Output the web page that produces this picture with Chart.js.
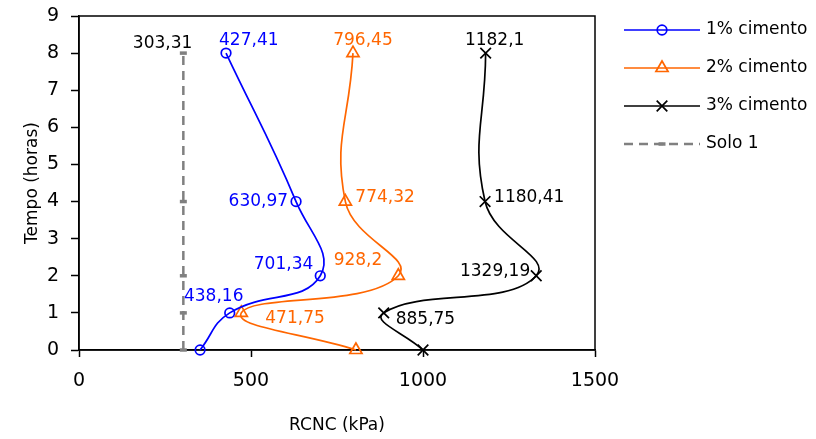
<!DOCTYPE html>
<html>
<head>
<meta charset="utf-8">
<script src="https://cdn.jsdelivr.net/npm/chart.js@4.4.0/dist/chart.umd.min.js"></script>
<style>
  html, body { margin: 0; padding: 0; background: #fff; }
  #wrap { width: 816px; height: 439px; }
</style>
</head>
<body>
<div id="wrap"><canvas id="rcnc-chart" width="816" height="439"></canvas></div>
<script>
// RCNC (kPa) por tempo de cura (horas)
const horas = [0, 1, 2, 4, 8];
const cimento1 = [352, 438.16, 701.34, 630.97, 427.41];
const cimento2 = [805, 471.75, 928.2, 774.32, 796.45];
const cimento3 = [1000, 885.75, 1329.19, 1180.41, 1182.1];
const solo1 = [303.31, 303.31, 303.31, 303.31, 303.31];
const seriesNames = ['1% cimento', '2% cimento', '3% cimento', 'Solo 1'];
const xTicks = [0, 500, 1000, 1500];

// where each value label sits relative to its point: [dx, dy, align], null = no label
const labelLayout = [
  [null, [-16, -16, 'center'], [-7, -11, 'right'], [-8, 0, 'right'], [-7, -13, 'left']],
  [null, [24, 6, 'left'], [-16, -15, 'right'], [10, -4, 'left'], [10, -13, 'center']],
  [null, [12, 7, 'left'], [-6, -4, 'right'], [9, -4, 'left'], [9, -13, 'center']],
  [null, null, null, null, [9, -10, 'right']]
];
const labelColors = ['#0000FF', '#FF6600', '#000000', '#000000'];

const FONT = "'DejaVu Sans', sans-serif";

const toPoints = vals => vals.map((v, i) => ({ x: v, y: horas[i] }));
const fmt = v => String(v).replace('.', ',');

const frame = {
  id: 'frame',
  beforeDatasetsDraw(chart) {
    const { ctx, chartArea: a } = chart;
    ctx.save();
    ctx.strokeStyle = '#000';
    ctx.lineWidth = 1.5;
    ctx.strokeRect(a.left, a.top, a.right - a.left, a.bottom - a.top);
    ctx.restore();
  }
};

const valueLabels = {
  id: 'valueLabels',
  afterDatasetsDraw(chart) {
    const ctx = chart.ctx;
    ctx.save();
    ctx.font = '17px ' + FONT;
    ctx.textBaseline = 'middle';
    chart.data.datasets.forEach((ds, di) => {
      const meta = chart.getDatasetMeta(di);
      meta.data.forEach((pt, i) => {
        const pos = labelLayout[di][i];
        if (!pos) return;
        ctx.fillStyle = labelColors[di];
        ctx.textAlign = pos[2];
        ctx.fillText(fmt(ds.data[i].x), pt.x + pos[0], pt.y + pos[1]);
      });
    });
    ctx.restore();
  }
};

const sideLegend = {
  id: 'sideLegend',
  afterDraw(chart) {
    const ctx = chart.ctx;
    const x0 = 624, x1 = 700, rowY = [30, 68, 106, 144];
    ctx.save();
    chart.data.datasets.forEach((ds, i) => {
      const y = rowY[i];
      ctx.strokeStyle = ds.borderColor;
      ctx.lineWidth = ds.borderWidth;
      ctx.setLineDash(ds.borderDash || []);
      ctx.beginPath();
      ctx.moveTo(x0, y);
      ctx.lineTo(x1, y);
      ctx.stroke();
      ctx.setLineDash([]);
      ctx.strokeStyle = ds.pointBorderColor;
      ctx.fillStyle = ds.pointBackgroundColor;
      ctx.lineWidth = ds.pointBorderWidth;
      Chart.helpers.drawPoint(ctx, {
        pointStyle: ds.pointStyle, radius: ds.pointRadius, rotation: 0, borderWidth: ds.pointBorderWidth
      }, (x0 + x1) / 2, y);
      ctx.fillStyle = '#000';
      ctx.font = '17px ' + FONT;
      ctx.textAlign = 'left';
      ctx.textBaseline = 'middle';
      ctx.fillText(ds.label, 706, y);
    });
    ctx.restore();
  }
};

const curve = (label, vals, color, style, radius) => ({
  label,
  data: toPoints(vals),
  showLine: true,
  tension: 0.45,
  borderColor: color,
  borderWidth: 1.7,
  pointStyle: style,
  pointRadius: radius,
  pointHoverRadius: radius,
  pointBorderColor: color,
  pointBackgroundColor: 'rgba(0,0,0,0)',
  pointBorderWidth: 1.7,
  clip: false
});

const datasets = [
  curve(seriesNames[0], cimento1, '#0000FF', 'circle', 4.8),
  curve(seriesNames[1], cimento2, '#FF6600', 'triangle', 7),
  curve(seriesNames[2], cimento3, '#000000', 'crossRot', 7.5),
  {
    label: seriesNames[3],
    data: toPoints(solo1),
    showLine: true,
    tension: 0,
    borderColor: '#808080',
    borderWidth: 2.5,
    borderDash: [9, 6],
    pointStyle: 'line',
    pointRadius: 3.5,
    pointHoverRadius: 3.5,
    pointBorderColor: '#808080',
    pointBackgroundColor: '#808080',
    pointBorderWidth: 3.5,
    clip: false
  }
];

new Chart(document.getElementById('rcnc-chart'), {
  type: 'scatter',
  data: { datasets },
  options: {
    responsive: false,
    animation: false,
    events: [],
    layout: { padding: { top: 16, right: 221, left: 0, bottom: 0 } },
    plugins: { legend: { display: false }, tooltip: { enabled: false } },
    scales: {
      x: {
        type: 'linear',
        min: 0,
        max: 1500,
        afterBuildTicks: scale => { scale.ticks = xTicks.map(v => ({ value: v })); },
        afterFit: scale => { scale.height = 89; scale.paddingLeft = 0; scale.paddingRight = 0; },
        grid: { drawOnChartArea: false, drawTicks: true, tickLength: 7, tickColor: '#000', tickWidth: 1.5 },
        border: { display: true, color: '#000', width: 1.5 },
        ticks: { color: '#000', font: { family: FONT, size: 19 }, padding: 13, callback: v => String(v) },
        title: { display: true, text: 'RCNC (kPa)', color: '#000', font: { family: FONT, size: 17 }, padding: { top: 0, bottom: 3 } }
      },
      y: {
        type: 'linear',
        min: 0,
        max: 9,
        ticks: { stepSize: 1, color: '#000', font: { family: FONT, size: 19 }, padding: 12 },
        afterFit: scale => { scale.width = 79; scale.paddingTop = 0; scale.paddingBottom = 0; },
        grid: { drawOnChartArea: false, drawTicks: true, tickLength: 8, tickColor: '#000', tickWidth: 1.5 },
        border: { display: true, color: '#000', width: 1.5 },
        title: { display: true, text: 'Tempo (horas)', color: '#000', font: { family: FONT, size: 17 }, padding: { top: 22, bottom: 0 } }
      }
    }
  },
  plugins: [frame, valueLabels, sideLegend]
});
</script>
</body>
</html>
